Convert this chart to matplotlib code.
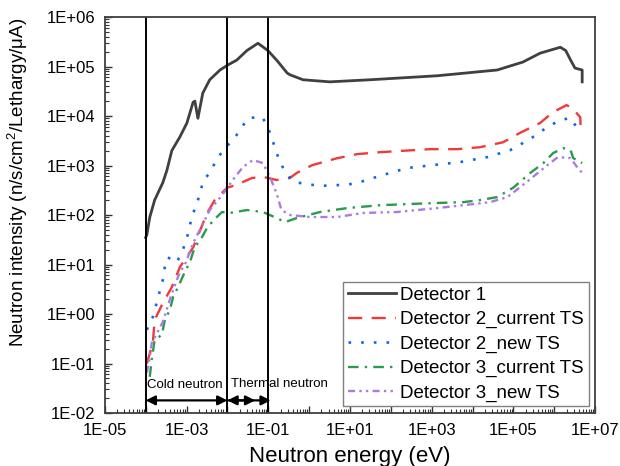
import numpy as np
import matplotlib.pyplot as plt
from matplotlib.ticker import FixedLocator, FuncFormatter, NullFormatter

plt.rcParams['font.family'] = ['Liberation Sans', 'DejaVu Sans']
plt.rcParams['mathtext.default'] = 'regular'

# Detector 1
e_det1 = [1.0e-4, 1.07e-4, 1.26e-4, 1.66e-4, 2.63e-4, 3.31e-4, 4.37e-4, 6.9e-4, 1.02e-3,
          1.45e-3, 1.6e-3, 1.9e-3, 2.5e-3, 3.7e-3, 6.6e-3, 1.02e-2, 1.7e-2, 3.0e-2, 5.6e-2,
          9.8e-2, 0.16, 0.29, 0.34, 0.71, 3.2, 31, 1350, 4.0e4, 1.7e5, 4.5e5, 1.4e6,
          1.9e6, 2.5e6, 3.2e6, 4.8e6, 4.8e6]
i_det1 = [35, 40, 90, 200, 450, 800, 2000, 3800, 7200,
          1.9e4, 2.0e4, 9000, 2.9e4, 5.4e4, 8.5e4, 1.07e5, 1.35e5, 2.1e5, 2.95e5,
          2.1e5, 1.35e5, 7.4e4, 6.8e4, 5.4e4, 4.9e4, 5.4e4, 6.5e4, 8.5e4, 1.23e5, 1.86e5, 2.45e5,
          2.1e5, 1.35e5, 9.3e4, 8.5e4, 4.9e4]

# Detector 2, current target station
e_det2_cur = [1.07e-4, 1.5e-4, 1.66e-4, 2.63e-4, 4.37e-4, 6.9e-4, 1.45e-3, 3.2e-3, 4.9e-3,
              9.8e-3, 1.7e-2, 4.0e-2, 7.4e-2, 0.16, 0.34, 0.5, 1.2, 4.8, 15, 55, 910,
              4200, 1.5e4, 5.6e4, 1.45e5, 4.5e5, 9.3e5, 2.0e6, 2.7e6, 4.3e6, 4.4e6]
i_det2_cur = [0.10, 0.26, 0.76, 1.66, 3.5, 8.9, 22, 110, 200,
              355, 410, 560, 590, 510, 560, 710, 1020, 1400, 1700, 1860, 2140,
              2140, 2340, 2950, 4570, 7240, 1.2e4, 1.66e4, 1.45e4, 9500, 6000]

# Detector 2, new target station
e_det2_new = [1.07e-4, 1.5e-4, 2.63e-4, 2.95e-4, 3.47e-4, 5.75e-4, 8.1e-4, 1.02e-3, 1.35e-3,
              1.9e-3, 2.6e-3, 3.7e-3, 5.9e-3, 1.02e-2, 1.7e-2, 3.2e-2, 7.1e-2, 9.8e-2,
              0.145, 0.195, 0.29, 0.4, 1.05, 2.2, 8.5, 15.8, 55, 250, 1070, 4900,
              2.3e4, 8.3e4, 2.6e5, 6.8e5, 1.4e6, 2.5e6, 3.6e6]
i_det2_new = [0.48, 0.87, 4.9, 8.9, 14, 11, 19.5, 34, 91,
              200, 500, 710, 1480, 2570, 4170, 9100, 9550, 6000,
              2340, 1120, 680, 470, 410, 390, 410, 450, 620, 890, 1020, 1170,
              1480, 2040, 3470, 6000, 8300, 9100, 5750]

# Detector 3, current target station
e_det3_cur = [1.26e-4, 1.41e-4, 1.66e-4, 2.5e-4, 2.95e-4, 3.9e-4, 4.7e-4, 6.2e-4, 9.1e-4,
              1.2e-3, 1.58e-3, 2.4e-3, 3.3e-3, 5.5e-3, 7.4e-3, 1.15e-2, 3.0e-2, 7.4e-2,
              0.16, 0.26, 0.5, 1.86, 8.5, 55, 1070, 5900, 1.5e4, 4.0e4, 9.8e4, 2.6e5,
              5.4e5, 9.3e5, 1.66e6, 2.5e6, 2.9e6, 4.8e6]
i_det3_cur = [0.054, 0.12, 0.30, 0.38, 0.76, 1.2, 2.2, 3.5, 7.1,
              11, 22, 36, 58, 91, 115, 110, 126, 115,
              87, 72, 87, 115, 138, 158, 174, 182, 200, 230, 355, 710,
              1120, 1780, 2240, 2040, 1410, 1120]

# Detector 3, new target station
e_det3_new = [1.07e-4, 1.26e-4, 1.41e-4, 1.66e-4, 2.63e-4, 4.37e-4, 6.9e-4, 9.1e-4, 1.45e-3,
              2.8e-3, 3.7e-3, 7.4e-3, 1.35e-2, 2.4e-2, 4.2e-2, 7.4e-2, 0.11, 0.16, 0.21,
              0.34, 1.05, 4.8, 21, 141, 1350, 5900, 2.7e4, 7.1e4, 1.74e5, 3.0e5,
              6.8e5, 1.23e6, 2.5e6, 3.6e6, 4.8e6]
i_det3_new = [0.065, 0.135, 0.26, 0.33, 0.69, 2.6, 7.1, 9.8, 27,
              79, 126, 250, 510, 930, 1290, 1120, 590, 275, 126,
              100, 91, 91, 110, 115, 138, 158, 182, 230, 410, 590,
              1020, 1480, 1410, 930, 710]

# energy group boundaries (eV)
cold_lo, cold_hi, thermal_hi = 1e-4, 1e-2, 1e-1

fig = plt.figure(figsize=(6.2, 4.66), dpi=100)
ax = fig.add_axes([0.169, 0.1137, 0.791, 0.8498])

lw = 1.7
ax.plot(e_det1, i_det1, color='#404040', lw=2.0, label='Detector 1')
ax.plot(e_det2_cur, i_det2_cur, color='#f03a3a', lw=lw, linestyle=(0, (6, 4)),
        label='Detector 2_current TS')
ax.plot(e_det2_new, i_det2_new, color='#1466e0', lw=lw + 0.2, linestyle=(0, (1, 3.8)),
        label='Detector 2_new TS')
ax.plot(e_det3_cur, i_det3_cur, color='#2a9a4e', lw=lw, linestyle=(0, (4.5, 2.6, 1, 2.6)),
        label='Detector 3_current TS')
ax.plot(e_det3_new, i_det3_new, color='#aa7be0', lw=lw, linestyle=(0, (3, 1.8, 1, 1.8, 1, 1.8)),
        label='Detector 3_new TS')

for xv in (cold_lo, cold_hi, thermal_hi):
    ax.axvline(xv, color='black', lw=1.4)

ay = 0.018
arrow = dict(arrowstyle='<|-|>', color='black', lw=1.6, mutation_scale=14, shrinkA=0, shrinkB=0)
ax.annotate('', xy=(cold_hi, ay), xytext=(cold_lo, ay), arrowprops=arrow)
ax.annotate('', xy=(0.115, ay), xytext=(cold_hi, ay), arrowprops=arrow)
ax.annotate('', xy=(0.048, ay), xytext=(cold_hi, ay),
            arrowprops=dict(arrowstyle='-|>', color='black', lw=1.6, mutation_scale=14,
                            shrinkA=0, shrinkB=0))
ax.text(1.1e-4, 0.037, 'Cold neutron', fontsize=9.5, ha='left', va='center')
ax.text(1.25e-2, 0.039, 'Thermal neutron', fontsize=9.5, ha='left', va='center')

ax.set_xscale('log')
ax.set_yscale('log')
ax.set_xlim(1e-5, 1e7)
ax.set_ylim(1e-2, 1e6)

x_major = [10.0 ** k for k in range(-5, 8)]
y_major = [10.0 ** k for k in range(-2, 7)]
x_minor = [m * 10.0 ** k for k in range(-5, 7) for m in range(2, 10)]
y_minor = [m * 10.0 ** k for k in range(-2, 6) for m in range(2, 10)]


def sci_label(v, pos):
    e = int(round(np.log10(v)))
    return f'1E{e:+03d}'


def odd_label(v, pos):
    e = int(round(np.log10(v)))
    return f'1E{e:+03d}' if e % 2 else ''


ax.xaxis.set_major_locator(FixedLocator(x_major))
ax.xaxis.set_minor_locator(FixedLocator(x_minor))
ax.xaxis.set_major_formatter(FuncFormatter(odd_label))
ax.xaxis.set_minor_formatter(NullFormatter())
ax.yaxis.set_major_locator(FixedLocator(y_major))
ax.yaxis.set_minor_locator(FixedLocator(y_minor))
ax.yaxis.set_major_formatter(FuncFormatter(sci_label))
ax.yaxis.set_minor_formatter(NullFormatter())

ax.tick_params(which='both', direction='in', labelsize=12, color='#333333')
ax.tick_params(axis='x', which='major', pad=7)
ax.tick_params(axis='y', which='major', pad=7)
ax.tick_params(which='major', length=5, width=1)
ax.tick_params(which='minor', length=3, width=0.8)
for sp in ax.spines.values():
    sp.set_color('#404040')
    sp.set_linewidth(1.3)

ax.set_xlabel('Neutron energy (eV)', fontsize=16, labelpad=6)
fig.text(0.029, 0.609, 'Neutron intensity (n/s/cm$^{2}$/Lethargy/μA)', fontsize=13.5,
         rotation=90, ha='center', va='center')

leg = ax.legend(loc='lower right', fontsize=13.5, frameon=True, fancybox=False,
                edgecolor='#808080', framealpha=1, borderaxespad=0.35, handlelength=2.6,
                handletextpad=0.2, labelspacing=0.38, borderpad=0.25)
leg.get_frame().set_linewidth(1.0)

fig.savefig('out.png', dpi=100)
